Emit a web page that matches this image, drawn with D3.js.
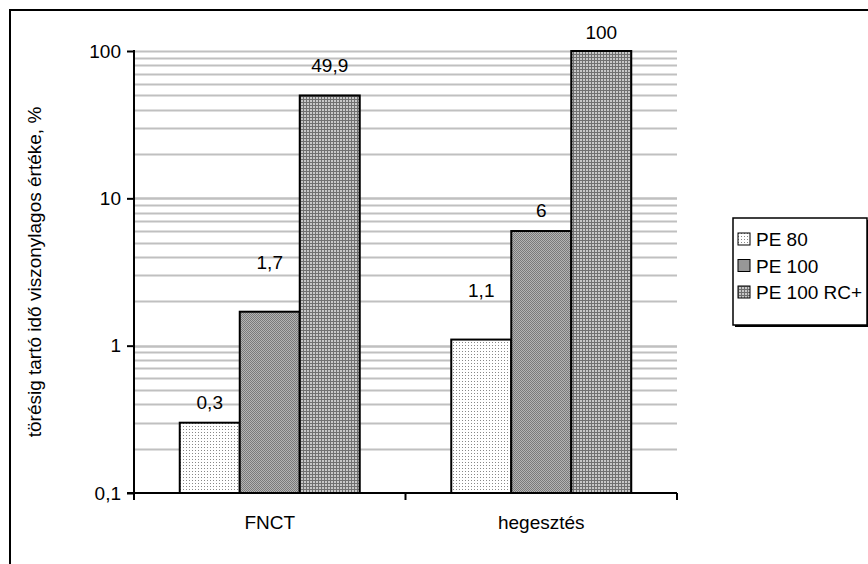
<!DOCTYPE html>
<html>
<head>
<meta charset="utf-8">
<script src="https://cdn.jsdelivr.net/npm/d3@7"></script>
<style>
body{margin:0;background:#fff;}
text{font-family:"Liberation Sans",Arial,sans-serif;fill:#000;}
</style>
</head>
<body>
<svg width="868" height="564"></svg>
<script>
var categories = ["FNCT", "hegesztés"];
var series = ["PE 80", "PE 100", "PE 100 RC+"];
var pe80 = [0.3, 1.1];
var pe100 = [1.7, 6];
var pe100rc = [49.9, 100];
var labels80 = ["0,3", "1,1"];
var labels100 = ["1,7", "6"];
var labelsRc = ["49,9", "100"];
var yTicks = [0.1, 1, 10, 100];
var yTickLabels = ["0,1", "1", "10", "100"];

// how far each value label sits above its bar (layout only)
var lift = [[21, 50], [50, 21], [30, 19]];

var FS = 19;
var svg = d3.select("svg");
var defs = svg.append("defs");

// fill patterns
var p1 = defs.append("pattern").attr("id","pat0").attr("patternUnits","userSpaceOnUse").attr("width",3).attr("height",3);
p1.append("rect").attr("width",3).attr("height",3).attr("fill","#fff");
p1.append("rect").attr("width",1).attr("height",1).attr("fill","#888");
var p2 = defs.append("pattern").attr("id","pat1").attr("patternUnits","userSpaceOnUse").attr("width",2).attr("height",2);
p2.append("rect").attr("width",2).attr("height",2).attr("fill","#b4b4b4");
p2.append("rect").attr("width",1).attr("height",1).attr("fill","#7a7a7a");
p2.append("rect").attr("x",1).attr("y",1).attr("width",1).attr("height",1).attr("fill","#7a7a7a");
var p3 = defs.append("pattern").attr("id","pat2").attr("patternUnits","userSpaceOnUse").attr("width",3).attr("height",3);
p3.append("rect").attr("width",3).attr("height",3).attr("fill","#c8c8c8");
p3.append("rect").attr("width",1).attr("height",3).attr("fill","#707070");
p3.append("rect").attr("width",3).attr("height",1).attr("fill","#707070");

// outer frame
svg.append("rect").attr("x",10).attr("y",10).attr("width",880).attr("height",600)
	.attr("fill","none").attr("stroke","#000").attr("stroke-width",2);

var plotL = 134, plotR = 677, plotT = 51, plotB = 493;

var x = d3.scaleBand().domain(categories).range([plotL, plotR]);
var xs = d3.scaleBand().domain(series).range([0, 180]);
var y = d3.scaleLog().domain([0.1, 100]).range([plotB, plotT]);

// gridlines
var grid = [];
for(var d=0.1; d<100; d*=10){
	for(var k=1;k<=10;k++){
		var v = +(d*k).toPrecision(3);
		if(v>0.1) grid.push(v);
	}
}
svg.append("g").selectAll("line").data(grid).enter().append("line")
	.attr("x1",plotL).attr("x2",plotR)
	.attr("y1",function(d){return Math.round(y(d))+0.5;})
	.attr("y2",function(d){return Math.round(y(d))+0.5;})
	.attr("stroke","#c0c0c0").attr("stroke-width",2);

var values = [pe80, pe100, pe100rc];
var texts = [labels80, labels100, labelsRc];
series.forEach(function(s, si){
	var g = svg.append("g");
	g.selectAll("rect").data(categories).enter().append("rect")
		.attr("x",function(c){return x(c) + x.bandwidth()/2 - 90 + xs(s);})
		.attr("y",function(c,i){return y(values[si][i]);})
		.attr("width",xs.bandwidth())
		.attr("height",function(c,i){return plotB - y(values[si][i]);})
		.attr("fill","url(#pat"+si+")")
		.attr("stroke","#000").attr("stroke-width",2);
	g.selectAll("text").data(categories).enter().append("text")
		.attr("x",function(c){return x(c) + x.bandwidth()/2 - 90 + xs(s) + xs.bandwidth()/2;})
		.attr("y",function(c,i){return y(values[si][i]) - lift[si][i] + 7;})
		.attr("text-anchor","middle").attr("font-size",FS)
		.text(function(c,i){return texts[si][i];});
});

// y axis
var yAxis = d3.axisLeft(y).tickValues(yTicks).tickSize(7).tickPadding(6)
	.tickFormat(function(d,i){return yTickLabels[i];});
var ya = svg.append("g").attr("transform","translate("+plotL+",0)").call(yAxis);
ya.select(".domain").attr("stroke-width",2).attr("d","M0,"+(plotT-1)+"V"+(plotB+1));
ya.selectAll(".tick line").attr("stroke-width",2);
ya.selectAll("text").attr("font-size",FS).attr("font-family","Liberation Sans, Arial, sans-serif");

// x axis
var xa = svg.append("g").attr("transform","translate(0,"+plotB+")");
xa.append("line").attr("x1",plotL-7).attr("x2",plotR).attr("stroke","#000").attr("stroke-width",2);
xa.selectAll(".ct").data([plotL, x.range()[0]+x.step(), plotR]).enter().append("line")
	.attr("x1",function(d){return d;}).attr("x2",function(d){return d;})
	.attr("y1",0).attr("y2",7).attr("stroke","#000").attr("stroke-width",2);
xa.selectAll(".cl").data(categories).enter().append("text")
	.attr("x",function(c){return x(c)+x.bandwidth()/2;}).attr("y",36)
	.attr("text-anchor","middle").attr("font-size",FS).text(function(c){return c;});

// y title
svg.append("text").attr("transform","translate(41,"+((plotT+plotB)/2)+") rotate(-90)")
	.attr("text-anchor","middle").attr("font-size",FS)
	.text("törésig tartó idő viszonylagos értéke, %");

// legend
var lg = svg.append("g").attr("transform","translate(733,218)");
lg.append("rect").attr("x",2).attr("y",2).attr("width",134).attr("height",107).attr("fill","#000");
lg.append("rect").attr("width",134).attr("height",107).attr("fill","#fff").attr("stroke","#000").attr("stroke-width",1.5);
series.forEach(function(s, si){
	var row = lg.append("g").attr("transform","translate(5,"+(21+si*26.5)+")");
	row.append("rect").attr("y",-6).attr("width",12).attr("height",12)
		.attr("fill","url(#pat"+si+")").attr("stroke","#000").attr("stroke-width",1);
	row.append("text").attr("x",18).attr("y",7).attr("font-size",FS).text(s);
});
</script>
</body>
</html>
